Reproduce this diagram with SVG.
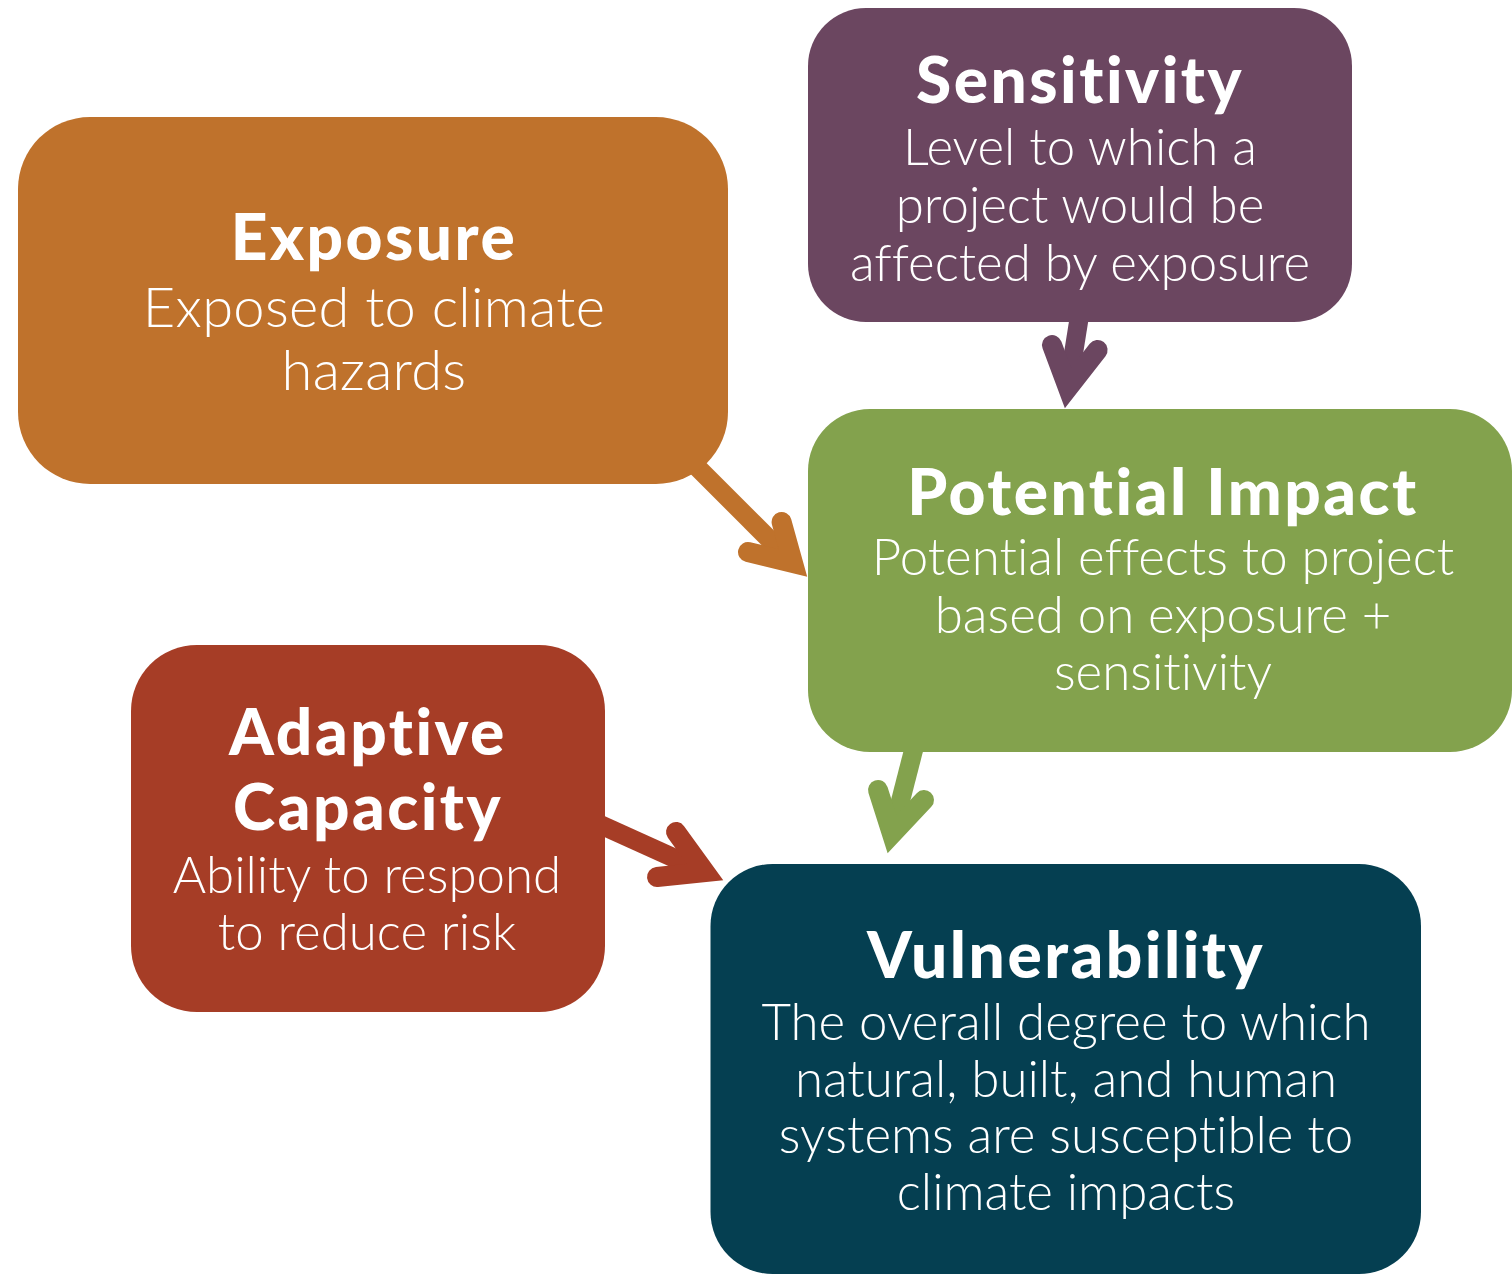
<svg xmlns="http://www.w3.org/2000/svg" width="1512" height="1274" viewBox="0 0 1512 1274">
<style>
text{font-family:Lato,"Open Sans","Liberation Sans",sans-serif;fill:#fff;text-anchor:middle;font-variant-ligatures:none}
.t{font-weight:900;font-size:64px;letter-spacing:2.5px}
.b{font-weight:300;font-size:51px}
.bx{font-weight:300;font-size:56px;letter-spacing:0.3px}
.sh{fill:none;stroke-width:19;stroke-linecap:butt}
.hd{fill:none;stroke-width:20;stroke-linecap:round;stroke-linejoin:miter;stroke-miterlimit:10}
</style>
<rect width="1512" height="1274" fill="#fff"/>
<g id="connectors">
  <g id="exposure-to-impact" stroke="#BF722C">
    <line class="sh" x1="690" y1="460" x2="793" y2="563"/>
    <polyline class="hd" points="781.6,522 793,563 748,552"/>
  </g>
  <g id="sensitivity-to-impact" stroke="#6B4660">
    <line class="sh" x1="1082" y1="300" x2="1068" y2="388"/>
    <polyline class="hd" points="1052,345 1068,388 1097.6,350"/>
  </g>
  <g id="impact-to-vulnerability" stroke="#83A24D">
    <line class="sh" x1="920" y1="725" x2="892" y2="834"/>
    <polyline class="hd" points="878,790 892,834 924,800"/>
  </g>
  <g id="adaptive-to-vulnerability" stroke="#A63D26">
    <line class="sh" x1="590" y1="820" x2="705" y2="872"/>
    <polyline class="hd" points="676,832 705,872 657,877"/>
  </g>
</g>
<g id="exposure">
  <rect x="18" y="117" width="710" height="367" rx="72" fill="#BF722C"/>
  <text class="t" x="374" y="260">Exposure</text>
  <text class="bx" x="374" y="327">Exposed to climate</text>
  <text class="bx" x="374" y="390">hazards</text>
</g>
<g id="sensitivity">
  <rect x="808" y="8" width="544" height="314" rx="58" fill="#6B4660"/>
  <text class="t" x="1080" y="103">Sensitivity</text>
  <text class="b" x="1080" y="165">Level to which a</text>
  <text class="b" x="1080" y="223">project would be</text>
  <text class="b" x="1080" y="281">affected by exposure</text>
</g>
<g id="potential-impact">
  <rect x="808" y="409" width="704" height="343" rx="62" fill="#83A24D"/>
  <text class="t" x="1163" y="515">Potential Impact</text>
  <text class="b" x="1163" y="575">Potential effects to project</text>
  <text class="b" x="1163" y="633">based on exposure +</text>
  <text class="b" x="1163" y="690">sensitivity</text>
</g>
<g id="adaptive-capacity">
  <rect x="131" y="645" width="474" height="367" rx="66" fill="#A63D26"/>
  <text class="t" x="368" y="755">Adaptive</text>
  <text class="t" x="368" y="830">Capacity</text>
  <text class="b" x="367" y="893">Ability to respond</text>
  <text class="b" x="367" y="950">to reduce risk</text>
</g>
<g id="vulnerability">
  <rect x="710.5" y="864" width="710.5" height="410" rx="62" fill="#053F51"/>
  <text class="t" x="1066" y="978">Vulnerability</text>
  <text class="b" x="1066" y="1040">The overall degree to which</text>
  <text class="b" x="1066" y="1097">natural, built, and human</text>
  <text class="b" x="1066" y="1153">systems are susceptible to</text>
  <text class="b" x="1066" y="1210">climate impacts</text>
</g>
</svg>
